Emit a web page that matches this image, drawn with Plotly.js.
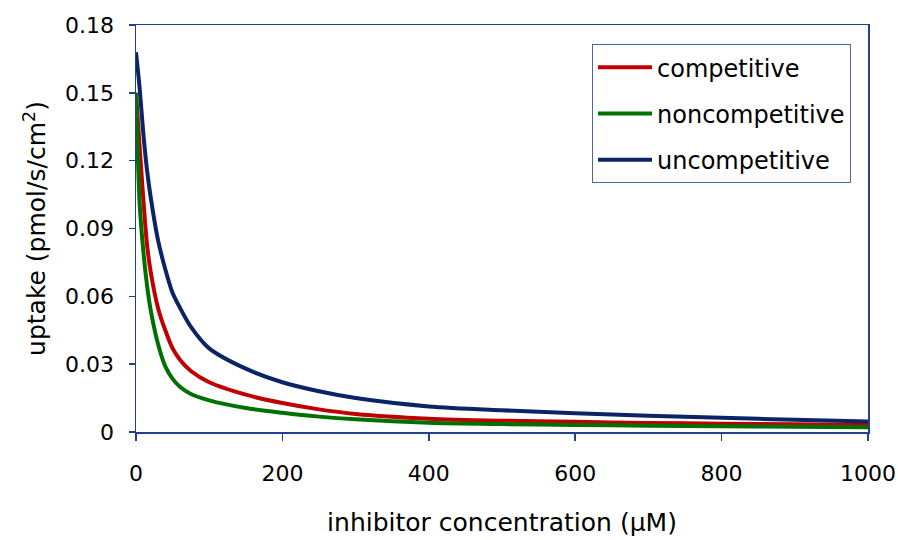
<!DOCTYPE html>
<html>
<head>
<meta charset="utf-8">
<script src="https://cdn.plot.ly/plotly-3.0.1.min.js"></script>
<style>html,body{margin:0;padding:0;background:#fff;}#chart{width:898px;height:540px;}</style>
</head>
<body>
<div id="chart"></div>
<script>
// inhibitor concentration (µM)
const concentration = [0, 5, 10, 15, 20, 30, 40, 50, 60, 75, 100, 150, 200, 250, 300, 400, 500, 600, 700, 800, 900, 1000];
// uptake (pmol/s/cm2)
const competitive    = [0.150, 0.126, 0.103, 0.083, 0.071, 0.055, 0.045, 0.037, 0.032, 0.027, 0.022, 0.0165, 0.0128, 0.0100, 0.0080, 0.0059, 0.0050, 0.0045, 0.0040, 0.0037, 0.0034, 0.0031];
const noncompetitive = [0.150, 0.101, 0.080, 0.065, 0.054, 0.039, 0.029, 0.0235, 0.020, 0.0168, 0.0140, 0.0106, 0.0085, 0.0068, 0.0056, 0.0041, 0.0035, 0.0031, 0.0028, 0.0025, 0.0023, 0.0021];
const uncompetitive  = [0.168, 0.152, 0.132, 0.116, 0.104, 0.085, 0.072, 0.0615, 0.055, 0.0465, 0.037, 0.028, 0.022, 0.018, 0.015, 0.0113, 0.0096, 0.0083, 0.0072, 0.0063, 0.0054, 0.0046];
const seriesNames = ['competitive', 'noncompetitive', 'uncompetitive'];
const seriesColors = ['#c00000', '#007000', '#0a2466'];
const seriesValues = [competitive, noncompetitive, uncompetitive];
const xTicks = [0, 200, 400, 600, 800, 1000];
const yTicks = [0, 0.03, 0.06, 0.09, 0.12, 0.15, 0.18];
const yTickText = ['0', '0.03', '0.06', '0.09', '0.12', '0.15', '0.18'];

const font = 'DejaVu Sans, Verdana, sans-serif';
const axisColor = '#23408e';

const traces = seriesValues.map((vals, i) => ({
  x: concentration,
  y: vals,
  type: 'scatter',
  mode: 'lines',
  name: seriesNames[i],
  legendgroup: 'g' + i,
  line: {color: seriesColors[i], width: 4, shape: 'spline', smoothing: 0.8}
}));

const layout = {
  width: 898, height: 540,
  paper_bgcolor: '#ffffff', plot_bgcolor: '#ffffff',
  margin: {l: 136, r: 30, t: 25, b: 108},
  font: {family: font, size: 22, color: '#000'},
  showlegend: true,
  legend: {
    x: 0.623, y: 0.953, xanchor: 'left', yanchor: 'top',
    bgcolor: '#ffffff', bordercolor: '#4a6a9e', borderwidth: 1,
    font: {family: font, size: 24, color: '#000'},
    tracegroupgap: 12,
    itemwidth: 54
  },
  xaxis: {
    range: [0, 1000], tickvals: xTicks, ticktext: xTicks.map(String),
    showgrid: false, zeroline: false,
    showline: true, linecolor: axisColor, linewidth: 1.5, mirror: true,
    ticks: 'outside', ticklen: 7, tickcolor: axisColor, tickwidth: 1.5,
    ticklabelstandoff: 14,
    tickfont: {family: font, size: 22, color: '#000'},
    title: {text: 'inhibitor concentration (μM)', standoff: 28, font: {family: font, size: 25, color: '#000'}}
  },
  yaxis: {
    range: [0, 0.18], tickvals: yTicks, ticktext: yTickText,
    showgrid: false, zeroline: false,
    showline: true, linecolor: axisColor, linewidth: 1.5, mirror: true,
    ticks: 'outside', ticklen: 6, tickcolor: axisColor, tickwidth: 1.5,
    ticklabelstandoff: 10,
    tickfont: {family: font, size: 22, color: '#000'},
    title: {text: 'uptake (pmol/s/cm<sup>2</sup>)', standoff: 12, font: {family: font, size: 25, color: '#000'}}
  }
};

Plotly.newPlot('chart', traces, layout, {displayModeBar: false, staticPlot: true});
</script>
</body>
</html>
